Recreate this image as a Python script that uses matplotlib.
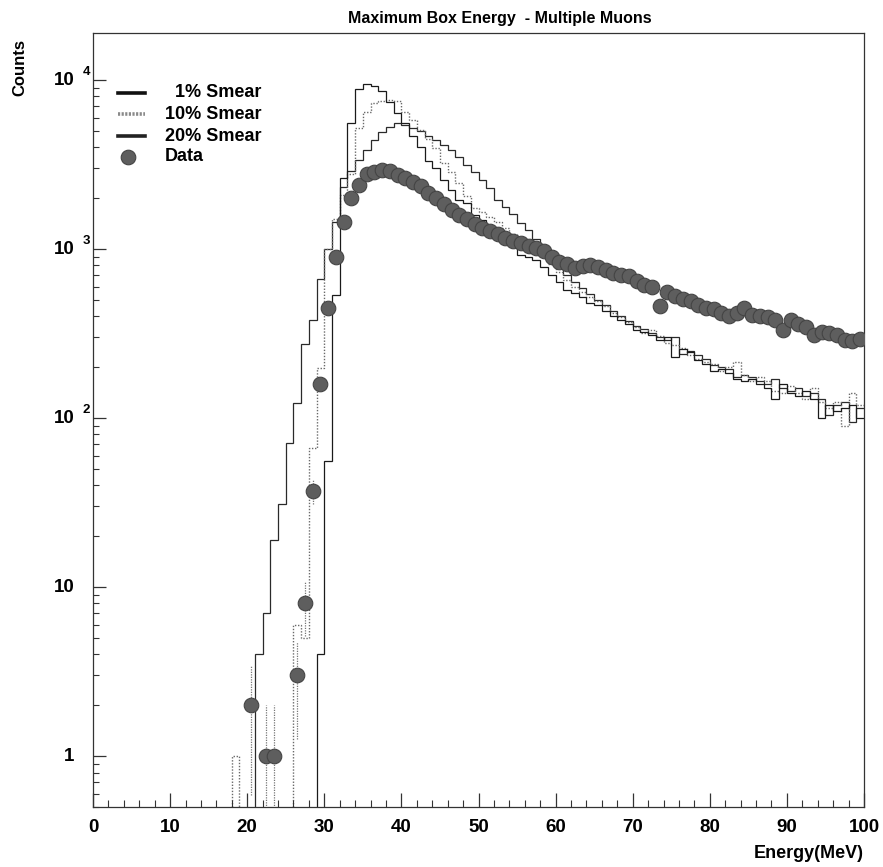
import numpy as np
import matplotlib
matplotlib.use("Agg")
import matplotlib.pyplot as plt
from matplotlib.ticker import MultipleLocator, LogLocator, NullFormatter, FixedLocator
from matplotlib.transforms import blended_transform_factory, offset_copy

plt.rcParams['font.family'] = ['Liberation Sans', 'DejaVu Sans']
plt.rcParams['font.weight'] = 'bold'

# ---- histogram contents: 1 MeV bins, first entry is the bin starting at first_bin MeV
first_bin = 17
smear_1 = [0, 0, 0, 0, 0, 0, 0, 0, 0, 0, 0, 0,
           4, 56, 535, 2630, 5600, 8800, 9500, 9200, 8600, 7400, 6400,
           5600, 4700, 4000, 3300, 3000, 2570, 2250, 1960, 1880, 1600,
           1480, 1350, 1250, 1150, 1050, 920, 900, 860, 780, 700,
           640, 570, 550, 520, 480, 470, 430, 400, 380, 360,
           330, 325, 310, 290, 300, 230, 255, 245, 220, 210,
           190, 195, 185, 170, 165, 170, 160, 150, 130, 160,
           140, 135, 145, 130, 100, 120, 110, 115, 120, 100]
smear_10 = [0, 1, 0, 0, 0, 0, 0, 0, 0, 6, 5, 67, 197,
            1000, 1500, 2100, 2800, 5200, 6500, 7300, 7500, 7600, 7500,
            6500, 5800, 5100, 4500, 3950, 3250, 2850, 2450, 2050, 1750,
            1650, 1550, 1450, 1330, 1230, 1130, 1060, 1000, 920, 820,
            730, 660, 600, 560, 520, 490, 460, 420, 395, 370,
            345, 320, 330, 305, 280, 270, 260, 235, 225, 215,
            210, 190, 200, 215, 180, 165, 175, 165, 145, 140,
            155, 140, 130, 150, 125, 115, 125, 90, 140, 120]
smear_20 = [0, 0, 0, 0,
            4, 7, 19, 31, 71, 123, 275, 380, 665,
            1000, 1440, 2330, 2900, 3350, 3850, 4400, 4900, 5300, 5600,
            5400, 5200, 5000, 4700, 4400, 4150, 3850, 3500, 3150, 2850,
            2560, 2300, 1960, 1780, 1620, 1420, 1290, 1140, 1000, 900,
            800, 700, 640, 590, 540, 500, 470, 430, 400, 375,
            350, 335, 320, 300, 290, 300, 240, 250, 235, 225,
            205, 200, 195, 175, 180, 175, 165, 160, 170, 150,
            145, 150, 135, 140, 130, 105, 120, 125, 95, 115]

# ---- measured spectrum (bin centres in MeV)
data_energy = [20.5, 22.5, 23.5] + [e + 0.5 for e in range(26, 100)]
data_counts = [2, 1, 1,
               3, 8, 37, 160, 450, 900, 1450, 2000, 2400, 2800,
               2850, 2950, 2900, 2750, 2650, 2500, 2350, 2150, 2000, 1850,
               1700, 1600, 1500, 1400, 1330, 1280, 1230, 1170, 1120, 1080,
               1050, 1010, 980, 900, 840, 820, 770, 790, 800, 780,
               750, 720, 700, 690, 650, 610, 600, 460, 560, 530,
               510, 490, 470, 450, 440, 420, 400, 420, 450, 410,
               400, 395, 380, 330, 380, 360, 345, 310, 325, 320,
               310, 290, 285, 295]

x_ticks = [0, 10, 20, 30, 40, 50, 60, 70, 80, 90, 100]
y_decades = [(1, '1', ''), (10, '10', ''), (100, '10', '2'), (1000, '10', '3'), (10000, '10', '4')]

edges = np.arange(0, 101)


def full_hist(vals):
    h = np.zeros(100)
    h[first_bin:first_bin + len(vals)] = vals
    return h


fig = plt.figure(figsize=(8.83, 8.67), dpi=100)
ax = fig.add_axes([93 / 883, 1 - 807 / 867, 771 / 883, 774 / 867])
ax.set_yscale('log')
ax.set_xlim(0, 100)
ax.set_ylim(0.5, 1.9e4)

floor = 1e-3  # empty bins drop below the frame
styles = [
    (smear_20, dict(color='#2a2a2a', lw=0.9, ls='-')),
    (smear_10, dict(color='#6a6a6a', lw=1.0, ls=(0, (1, 1.2)))),
    (smear_1, dict(color='#1a1a1a', lw=0.9, ls='-')),
]
for vals, st in styles:
    h = full_hist(vals)
    ax.stairs(np.where(h > 0, h, floor), edges, baseline=None, **st)

# data with sqrt(N) error bars
de = np.array(data_energy)
dc = np.array(data_counts, dtype=float)
err = np.sqrt(dc)
lo = np.maximum(dc - err, floor)
hi = dc + err
ax.vlines(de, lo, hi, colors='#777777', lw=0.9, linestyles=(0, (1, 1)), zorder=3)
ax.plot(de, dc, 'o', ms=10.5, mfc='#5e5e5e', mec='#444444', mew=0.8, zorder=4)

# axes styling
for s in ax.spines.values():
    s.set_linewidth(0.9)
    s.set_color('#333333')
ax.xaxis.set_major_locator(FixedLocator(x_ticks))
ax.xaxis.set_minor_locator(MultipleLocator(2))
ax.yaxis.set_major_locator(FixedLocator([d[0] for d in y_decades]))
ax.yaxis.set_minor_locator(LogLocator(base=10, subs=np.arange(2, 10), numticks=20))
ax.yaxis.set_major_formatter(NullFormatter())
ax.yaxis.set_minor_formatter(NullFormatter())
ax.tick_params(which='both', direction='in', top=False, right=False, color='#333333')
ax.tick_params(axis='x', which='major', length=10, width=0.9, labelsize=13.5, pad=9)
ax.tick_params(axis='x', which='minor', length=5, width=0.8)
ax.tick_params(axis='y', which='major', length=9.5, width=0.9)
ax.tick_params(axis='y', which='minor', length=4, width=0.8)
for lab in ax.get_xticklabels():
    lab.set_fontweight('bold')

trans = blended_transform_factory(ax.transAxes, ax.transData)
sup_trans = offset_copy(trans, fig=fig, y=8, units='dots')
for val, base, exp in y_decades:
    ax.text(-0.024, val, base, transform=trans, ha='right', va='center',
            fontsize=13.5, fontweight='bold')
    if exp:
        ax.text(-0.0135, val, exp, transform=sup_trans, ha='left', va='center',
                fontsize=9.5, fontweight='bold')

# legend
leg_y = [0.9225, 0.8953, 0.8669, 0.8398]
leg_x0, leg_x1, leg_tx = 0.0324, 0.0674, 0.0934
ax.plot([leg_x0, leg_x1], [leg_y[0]] * 2, transform=ax.transAxes, color='#111111', lw=2.6)
ax.plot([leg_x0, leg_x1], [leg_y[1]] * 2, transform=ax.transAxes, color='#8a8a8a', lw=2.6,
        ls=(0, (0.6, 0.4)))
ax.plot([leg_x0, leg_x1], [leg_y[2]] * 2, transform=ax.transAxes, color='#222222', lw=2.6)
ax.plot([0.0454], [leg_y[3]], 'o', transform=ax.transAxes, ms=10.5, mfc='#5e5e5e',
        mec='#444444', mew=0.8)
ax.text(leg_tx + 0.013, leg_y[0], '1% Smear', transform=ax.transAxes, va='center',
        fontsize=13, fontweight='bold')
ax.text(leg_tx, leg_y[1], '10% Smear', transform=ax.transAxes, va='center',
        fontsize=13, fontweight='bold')
ax.text(leg_tx, leg_y[2], '20% Smear', transform=ax.transAxes, va='center',
        fontsize=13, fontweight='bold')
ax.text(leg_tx, leg_y[3], 'Data', transform=ax.transAxes, va='center',
        fontsize=13, fontweight='bold')

fig.text(500 / 883, 1 - 18 / 867, 'Maximum Box Energy  - Multiple Muons', ha='center',
         va='center', fontsize=11.5, fontweight='bold')
fig.text(20 / 883, 1 - 67 / 867, 'Counts', rotation=90, ha='center', va='center',
         fontsize=12, fontweight='bold')
fig.text(864 / 883, 1 - 854 / 867, 'Energy(MeV)', ha='right', va='center',
         fontsize=13, fontweight='bold')

fig.savefig('out.png', dpi=100, facecolor='white')
